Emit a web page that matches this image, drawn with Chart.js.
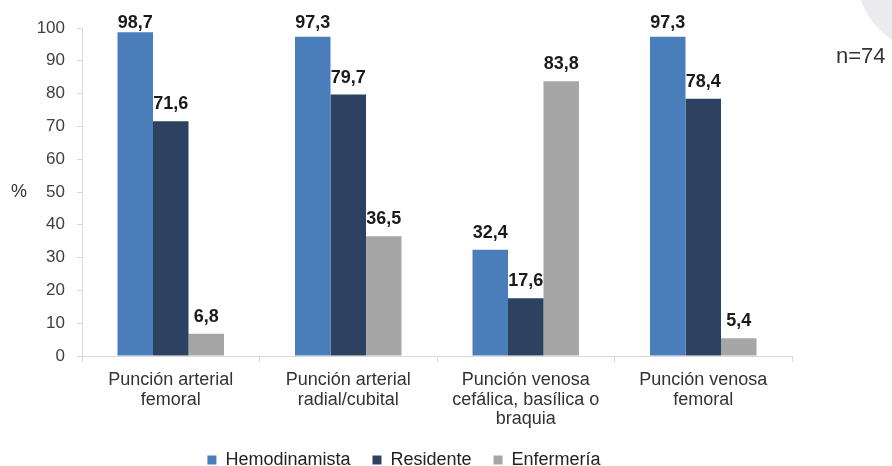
<!DOCTYPE html>
<html>
<head>
<meta charset="utf-8">
<script src="https://cdn.jsdelivr.net/npm/chart.js@4.4.1/dist/chart.umd.min.js"></script>
<style>
  html, body { margin: 0; padding: 0; background: #ffffff; }
  #wrap { width: 892px; height: 466px; position: relative; }
</style>
</head>
<body>
<div id="wrap"><canvas id="chart"></canvas></div>
<script>
// Procedimientos de punción (categorías del eje X)
const categories = [
  ['Punción arterial', 'femoral'],
  ['Punción arterial', 'radial/cubital'],
  ['Punción venosa', 'cefálica, basílica o', 'braquia'],
  ['Punción venosa', 'femoral']
];

// Porcentaje por profesional
const hemodinamista = [98.7, 97.3, 32.4, 97.3];
const residente     = [71.6, 79.7, 17.6, 78.4];
const enfermeria    = [6.8, 36.5, 83.8, 5.4];

const seriesNames = ['Hemodinamista', 'Residente', 'Enfermería'];
const yTicks = [0, 10, 20, 30, 40, 50, 60, 70, 80, 90, 100];
const sampleNote = 'n=74';
const axisUnit = '%';

const FONT = '"Liberation Sans", Arial, sans-serif';
const colors = ['#4a7ebb', '#2d4260', '#a6a6a6'];

// Valores sobre cada barra, con coma decimal (sin salirse por arriba)
const valueLabels = {
  id: 'valueLabels',
  afterDatasetsDraw(chart) {
    const ctx = chart.ctx;
    ctx.save();
    ctx.font = 'bold 18px ' + FONT;
    ctx.fillStyle = '#1a1a1a';
    ctx.textAlign = 'center';
    ctx.textBaseline = 'alphabetic';
    chart.data.datasets.forEach((ds, i) => {
      chart.getDatasetMeta(i).data.forEach((bar, j) => {
        const txt = ds.data[j].toFixed(1).replace('.', ',');
        ctx.fillText(txt, bar.x, Math.max(bar.y - 12, 28));
      });
    });
    ctx.restore();
  }
};

// Unidad del eje Y, tamaño muestral y adorno de esquina
const extras = {
  id: 'extras',
  beforeDraw(chart) {
    const ctx = chart.ctx;
    ctx.save();
    ctx.fillStyle = '#ebebf0';
    ctx.beginPath();
    ctx.arc(940, -30, 85, 0, Math.PI * 2);
    ctx.fill();
    ctx.restore();
  },
  afterDraw(chart) {
    const ctx = chart.ctx;
    const y = chart.scales.y;
    ctx.save();
    ctx.fillStyle = '#333333';
    ctx.textBaseline = 'middle';
    ctx.textAlign = 'left';
    ctx.font = '18px ' + FONT;
    ctx.fillText(axisUnit, 11, y.getPixelForValue(50));
    ctx.font = '22px ' + FONT;
    ctx.fillText(sampleNote, 836, 57);
    ctx.restore();
  }
};

new Chart(document.getElementById('chart'), {
  type: 'bar',
  data: {
    labels: categories,
    datasets: [
      { label: seriesNames[0], data: hemodinamista, backgroundColor: colors[0] },
      { label: seriesNames[1], data: residente, backgroundColor: colors[1] },
      { label: seriesNames[2], data: enfermeria, backgroundColor: colors[2] }
    ]
  },
  options: {
    responsive: true,
    maintainAspectRatio: false,
    animation: false,
    datasets: { bar: { categoryPercentage: 0.6, barPercentage: 1.0, borderWidth: 0 } },
    layout: { padding: { left: 16, right: 100, top: 28, bottom: -13 } },
    plugins: {
      legend: {
        position: 'bottom',
        labels: {
          boxWidth: 9,
          boxHeight: 9,
          padding: 22,
          color: '#222222',
          font: { family: FONT, size: 18 }
        }
      },
      tooltip: { enabled: false }
    },
    scales: {
      x: {
        grid: { drawOnChartArea: false, tickLength: 6, color: '#d9d9d9', offset: true },
        border: { color: '#d9d9d9' },
        ticks: { color: '#333333', padding: 8, font: { family: FONT, size: 18, lineHeight: 1.1 }, maxRotation: 0, autoSkip: false },
        afterFit(scale) {
          const lg = scale.chart.legend;
          scale.height = 466 + 13 - 356 - (lg ? lg.height : 0);
          // las etiquetas de tres líneas pueden pasar por debajo del eje
          scale._computeLabelArea = () => undefined;
        }
      },
      y: {
        min: 0, max: 100,
        afterBuildTicks(scale) { scale.ticks = yTicks.map(v => ({ value: v })); },
        grid: { drawOnChartArea: false, tickLength: 5, color: '#d9d9d9' },
        border: { color: '#d9d9d9' },
        ticks: { color: '#404040', padding: 12, font: { family: FONT, size: 17 } },
        afterFit(scale) { scale.width = 66; }
      }
    }
  },
  plugins: [valueLabels, extras]
});
</script>
</body>
</html>
